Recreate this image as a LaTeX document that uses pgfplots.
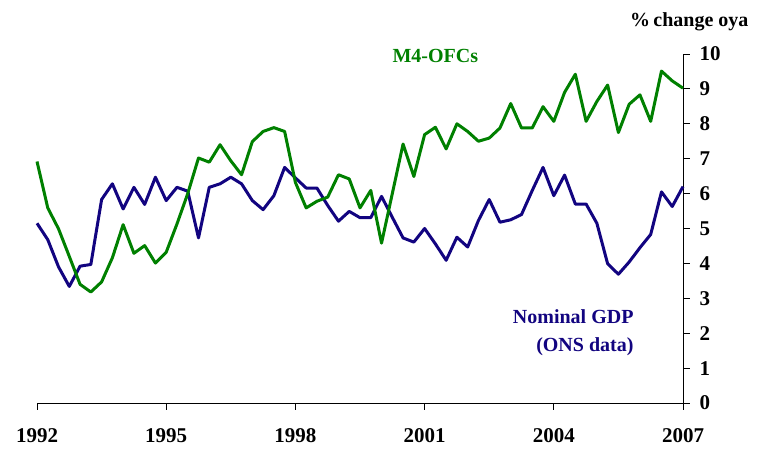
\documentclass[border=0pt]{standalone}
\usepackage{pgfplots}
\usepackage{pgfplotstable}
\pgfplotsset{compat=1.18}
\usepackage{fontspec}
\setmainfont{Liberation Serif}
\definecolor{mgreen}{RGB}{0,128,0}
\definecolor{mnavy}{RGB}{18,4,128}
\pgfplotstableread{
x G N
1992.00 6.92 5.15
1992.25 5.59 4.68
1992.50 4.99 3.90
1992.75 4.20 3.34
1993.00 3.40 3.92
1993.25 3.18 3.97
1993.50 3.47 5.83
1993.75 4.16 6.28
1994.00 5.11 5.56
1994.25 4.29 6.18
1994.50 4.51 5.69
1994.75 4.01 6.47
1995.00 4.32 5.80
1995.25 5.13 6.18
1995.50 6.00 6.07
1995.75 7.02 4.73
1996.00 6.90 6.18
1996.25 7.40 6.28
1996.50 6.94 6.47
1996.75 6.54 6.28
1997.00 7.49 5.80
1997.25 7.78 5.54
1997.50 7.89 5.94
1997.75 7.78 6.75
1998.00 6.32 6.45
1998.25 5.59 6.16
1998.50 5.78 6.16
1998.75 5.90 5.66
1999.00 6.54 5.21
1999.25 6.42 5.49
1999.50 5.59 5.31
1999.75 6.09 5.31
2000.00 4.58 5.92
2000.25 6.00 5.32
2000.50 7.42 4.73
2000.75 6.49 4.61
2001.00 7.69 5.00
2001.25 7.90 4.56
2001.50 7.28 4.09
2001.75 8.00 4.75
2002.00 7.78 4.47
2002.25 7.50 5.23
2002.50 7.59 5.83
2002.75 7.88 5.18
2003.00 8.58 5.25
2003.25 7.88 5.40
2003.50 7.88 6.09
2003.75 8.49 6.75
2004.00 8.07 5.94
2004.25 8.90 6.53
2004.50 9.42 5.70
2004.75 8.07 5.70
2005.00 8.64 5.15
2005.25 9.11 3.99
2005.50 7.75 3.69
2005.75 8.56 4.04
2006.00 8.83 4.45
2006.25 8.07 4.83
2006.50 9.51 6.05
2006.75 9.23 5.63
2007.00 9.02 6.20
}\datatable
\begin{document}
\begin{tikzpicture}
\path[use as bounding box] (0,0) rectangle (757bp,453bp);
\begin{axis}[
  at={(37bp,50bp)}, anchor=south west,
  scale only axis, width=646bp, height=349bp,
  xmin=1992, xmax=2007, ymin=0, ymax=10,
  axis x line=bottom, axis y line=right,
  axis line style={-, line width=0.9bp, black},
  tick style={line width=0.9bp, black},
  tick align=outside, major tick length=7bp,
  xtick={1992,1995,1998,2001,2004,2007},
  xticklabels={1992,1995,1998,2001,2004,2007},
  ytick={0,1,...,10},
  /pgf/number format/assume math mode=true,
  ticklabel style={font=\fontsize{21bp}{24bp}\selectfont\bfseries},
  xticklabel style={yshift=-15bp},
  yticklabel style={xshift=6bp},
  clip=false,
]
\addplot[mnavy, line width=3bp, line join=round] table[x=x, y=N] {\datatable};
\addplot[mgreen, line width=3bp, line join=round] table[x=x, y=G] {\datatable};
\end{axis}
\node[anchor=base east, font=\fontsize{20bp}{24bp}\selectfont\bfseries] at (752bp,426bp) {\%\,change oya};
\node[anchor=base west, text=mgreen, font=\fontsize{20bp}{24bp}\selectfont\bfseries] at (389bp,390bp) {M4-OFCs};
\node[anchor=base east, text=mnavy, font=\fontsize{20bp}{24bp}\selectfont\bfseries] at (637bp,129bp) {Nominal GDP};
\node[anchor=base east, text=mnavy, font=\fontsize{20bp}{24bp}\selectfont\bfseries] at (637bp,101bp) {(ONS data)};
\end{tikzpicture}
\end{document}
